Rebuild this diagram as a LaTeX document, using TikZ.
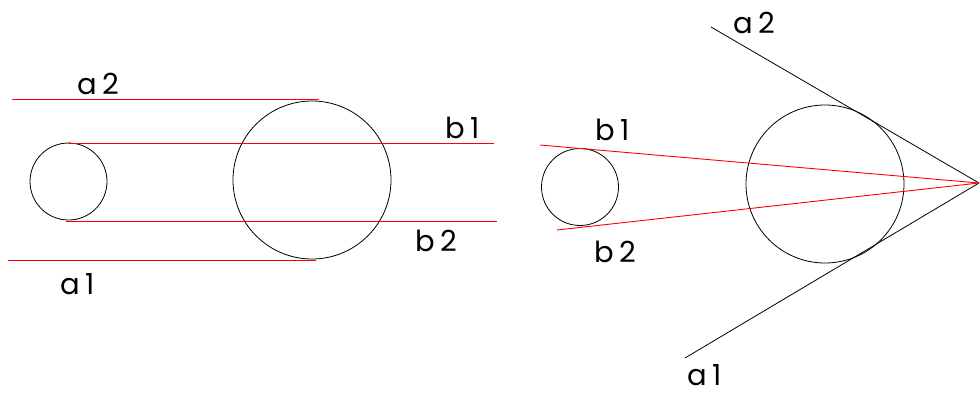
\documentclass[tikz,border=0pt]{standalone}
\usepackage{fontspec}
\setmainfont{Poppins}
\begin{document}
\begin{tikzpicture}[x=1pt,y=-1pt,
  ring/.style={draw=black,line width=0.8pt,circle,inner sep=0pt},
  redline/.style={draw=red,line width=0.9pt},
  blackline/.style={draw=black,line width=0.8pt},
  lbl/.style={anchor=base west,inner sep=0pt,font=\fontsize{29}{31}\selectfont\addfontfeatures{LetterSpace=18}}]
\useasboundingbox (0,0) rectangle (980,394);
% left figure
\node[ring,minimum size=77pt] (ls) at (68.5,181.5) {};
\node[ring,minimum size=158pt] (lb) at (312,180) {};
\coordinate (a2s) at (12,99.5);
\coordinate (a2e) at (319,99.5);
\coordinate (b1s) at (68,143);
\coordinate (b1e) at (494,143);
\coordinate (b2s) at (66,221);
\coordinate (b2e) at (497,221);
\coordinate (a1s) at (8,260);
\coordinate (a1e) at (316,260);
\draw[redline] (a2s) -- (a2e);
\draw[redline] (b1s) -- (b1e);
\draw[redline] (b2s) -- (b2e);
\draw[redline] (a1s) -- (a1e);
\node[lbl] (la2) at (77,94) {a2};
\node[lbl] (lb1) at (445,138) {b1};
\node[lbl] (lb2) at (415,251) {b2};
\node[lbl] (la1) at (60,294) {a1};
% right figure
\node[ring,minimum size=77pt] (rs) at (580,187) {};
\node[ring,minimum size=158pt] (rb) at (825,184) {};
\coordinate (apex) at (979,183);
\coordinate (ra2) at (711,27);
\coordinate (ra1) at (685,358);
\coordinate (rb1) at (540,145);
\coordinate (rb2) at (557,230);
\draw[blackline] (ra2) -- (apex);
\draw[blackline] (ra1) -- (apex);
\draw[redline] (rb1) -- (apex);
\draw[redline] (rb2) -- (apex);
\node[lbl] (ta2) at (733,33) {a2};
\node[lbl] (tb1) at (595,140) {b1};
\node[lbl] (tb2) at (594,262) {b2};
\node[lbl] (ta1) at (687,385) {a1};
\end{tikzpicture}
\end{document}
